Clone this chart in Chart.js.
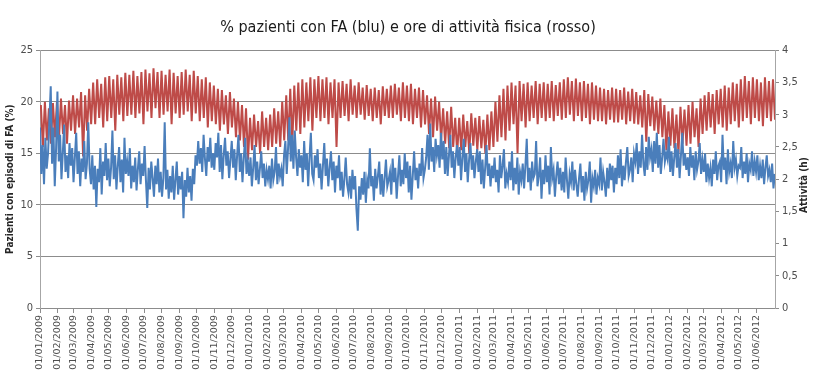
<!DOCTYPE html>
<html>
<head>
<meta charset="utf-8">
<title>FA e attività fisica</title>
<script src="https://cdn.jsdelivr.net/npm/chart.js@4.4.0/dist/chart.umd.min.js"></script>
<style>
  body { margin: 0; background: #fff; }
  .container { width: 816px; height: 386px; position: relative; }
</style>
</head>
<body>
<div class="container"><canvas id="myChart"></canvas></div>
<script>

var titolo = "% pazienti con FA (blu) e ore di attività fisica (rosso)";
var titoloSinistro = "Pazienti con episodi di FA (%)";
var titoloDestro = "Attività (h)";

var mesi = [
  "01/01/2009", "01/02/2009", "01/03/2009", "01/04/2009", "01/05/2009", "01/06/2009",
  "01/07/2009", "01/08/2009", "01/09/2009", "01/10/2009", "01/11/2009", "01/12/2009",
  "01/01/2010", "01/02/2010", "01/03/2010", "01/04/2010", "01/05/2010", "01/06/2010",
  "01/07/2010", "01/08/2010", "01/09/2010", "01/10/2010", "01/11/2010", "01/12/2010",
  "01/01/2011", "01/02/2011", "01/03/2011", "01/04/2011", "01/05/2011", "01/06/2011",
  "01/07/2011", "01/08/2011", "01/09/2011", "01/10/2011", "01/11/2011", "01/12/2011",
  "01/01/2012", "01/02/2012", "01/03/2012", "01/04/2012", "01/05/2012", "01/06/2012"
];

// % pazienti con FA, 3 letture a settimana (una riga = un mese)
var pazientiFA = [
  17.5,13.0,15.8, 12.0,16.5,13.5, 15.0,18.2,21.5, 14.0,17.5,11.8,
  15.5,21.0,14.2, 16.8,12.5,15.0, 17.8,13.2,14.8, 12.6,16.0,13.8,
  15.5,12.2,14.6, 17.0,13.0,15.2, 11.8,14.5,13.2, 16.2,12.5,14.0, 18.0,13.5,12.0,
  14.8,11.5,13.8, 9.8,13.5,12.2, 15.5,11.0,14.2, 12.8,16.0,12.4,
  14.5,11.8,13.6, 17.2,12.5,14.8, 11.5,13.8,15.6, 12.2,14.4,11.2, 16.5,13.0,14.2,
  12.8,15.5,11.6, 13.8,12.2,14.6, 11.4,13.5,15.2, 12.0,14.0,12.8,
  15.7,12.4,9.7, 13.6,11.5,14.2, 12.6,10.8,13.8, 12.0,14.5,11.2,
  13.2,10.8,12.6, 18.0,11.5,13.4, 10.6,12.8,11.2, 13.8,10.5,12.4, 14.2,11.0,12.8,
  11.5,13.2,8.7, 12.4,10.8,13.6, 11.2,12.8,10.4, 13.5,12.0,14.8,
  13.8,16.2,14.0, 15.5,13.2,16.8, 14.5,12.8,15.6, 14.2,16.5,13.6, 15.0,13.4,16.0,
  14.6,17.0,13.2, 15.8,12.5,14.8, 16.5,13.8,15.2, 12.6,14.4,16.2,
  13.6,15.4,12.4, 14.8,16.8,13.2, 15.0,12.2,14.6, 16.5,13.0,14.2,
  12.8,14.6,11.8, 13.6,15.8,12.4, 14.2,12.0,13.5, 15.2,12.6,14.0, 11.8,13.4,12.5,
  13.8,11.6,14.5, 12.4,13.2,15.6, 12.0,14.0,12.8, 13.5,11.8,14.8,
  16.2,13.0,15.5, 18.5,14.2,16.8, 13.5,17.2,14.6, 12.8,15.4,13.6,
  14.8,12.2,16.2, 13.4,15.0,11.8, 14.6,17.0,13.0, 12.4,14.8,13.6,
  15.4,12.6,14.0, 11.5,13.8,16.0, 12.8,14.5,11.8, 13.6,15.2,12.4, 14.2,11.2,13.8,
  12.6,14.8,11.4, 13.2,10.8,12.5, 14.6,12.0,11.2, 12.8,10.6,13.4,
  11.5,12.8,9.6, 7.5,11.8,10.5, 12.6,11.0,13.2, 10.2,12.4,11.6,
  15.5,11.8,12.8, 10.4,13.5,11.6, 12.8,14.2,11.0, 13.0,10.8,12.6, 14.4,11.8,12.4,
  13.2,11.0,14.5, 12.2,13.6,10.6, 12.8,14.8,11.8, 13.4,12.0,15.0,
  12.6,14.2,11.2, 13.8,10.5,12.8, 15.2,12.4,13.6, 11.6,14.0,12.8, 15.5,12.6,13.4,
  14.6,16.8,13.4, 17.9,14.2,15.6, 13.2,16.4,14.8, 15.8,13.6,17.0,
  14.4,16.2,13.0, 15.6,12.8,14.8, 16.8,13.6,15.2, 12.6,14.6,15.8,
  13.8,15.6,12.4, 14.6,16.4,13.2, 15.0,12.2,14.4, 16.0,13.4,14.8, 12.6,14.2,15.4,
  13.2,15.2,12.0, 14.4,11.6,13.6, 15.8,12.8,14.0, 11.8,13.8,12.6,
  14.6,12.2,13.4, 11.2,14.8,12.6, 13.8,15.4,11.6, 13.0,12.2,14.2,
  12.4,15.2,11.4, 13.6,12.0,14.6, 11.0,13.2,12.4, 14.0,11.6,13.8,
  16.4,12.2,13.6, 11.4,14.2,12.6, 13.0,16.2,11.8, 12.8,14.6,10.6, 13.4,12.0,14.8,
  12.2,13.8,11.0, 15.6,12.6,13.4, 10.8,12.8,14.2, 12.0,13.6,11.4,
  13.2,11.2,14.6, 12.4,10.6,13.0, 12.2,14.2,11.4, 13.4,12.0,10.8,
  12.6,14.0,11.2, 12.8,10.4,13.2, 11.6,12.4,14.2, 10.2,12.6,11.8, 13.4,11.0,12.6,
  12.0,14.6,11.4, 13.2,12.2,10.8, 13.6,11.6,14.0, 12.4,13.8,11.2,
  13.6,12.0,14.8, 12.6,15.4,11.8, 13.8,12.4,14.2, 15.6,12.8,13.4, 14.6,12.2,15.0,
  14.2,16.0,13.0, 15.2,13.6,16.8, 14.0,12.8,15.6, 13.4,16.6,14.6,
  15.4,13.2,16.2, 14.0,17.0,13.6, 15.8,13.0,14.6, 16.4,14.2,15.0,
  14.4,16.6,13.2, 15.2,12.8,14.6, 16.0,13.6,15.4, 12.6,14.8,17.0, 13.8,15.0,13.4,
  14.6,12.8,15.6, 13.6,14.8,12.4, 15.2,13.4,14.2, 16.0,13.0,14.4,
  13.2,15.0,12.2, 14.0,12.6,13.6, 11.8,14.4,13.0, 15.2,12.4,13.8,
  14.2,12.2,16.8, 13.4,14.6,12.0, 15.4,13.2,14.0, 12.6,16.2,13.6, 14.4,12.8,13.8,
  13.6,15.6,12.6, 14.2,13.0,15.0, 12.2,14.0,13.4, 15.2,12.8,14.2,
  13.2,14.8,12.4, 13.8,12.6,14.4, 12.0,13.6,14.8, 12.8,13.4,12.2, 14.0,11.6,13.0
];

// ore di attività fisica, 2 letture a settimana: feriali / fine settimana
var oreAttivita = [
  3.15,2.5, 3.2,2.6, 3.1,2.55, 3.18,2.65,
  3.2,2.62, 3.25,2.7, 3.15,2.55, 3.22,2.75,
  3.3,2.7, 3.25,2.8, 3.35,2.35, 3.3,2.75, 3.4,2.85,
  3.5,2.85, 3.55,2.95, 3.48,2.8, 3.58,2.9,
  3.6,2.95, 3.55,2.75, 3.62,3.0, 3.58,2.9, 3.65,2.98,
  3.62,3.0, 3.68,2.95, 3.6,3.02, 3.66,2.85,
  3.7,3.05, 3.64,2.95, 3.72,3.1, 3.66,2.95,
  3.68,3.0, 3.62,3.05, 3.7,2.85, 3.65,3.02, 3.6,2.95,
  3.66,3.0, 3.7,3.05, 3.62,2.9, 3.68,3.02,
  3.6,2.9, 3.55,2.95, 3.58,2.8, 3.5,2.9, 3.45,2.85,
  3.4,2.75, 3.38,2.85, 3.3,2.7, 3.35,2.8,
  3.25,2.65, 3.2,2.6, 3.15,2.5, 3.1,2.3,
  2.95,2.45, 3.0,2.5, 2.9,2.4, 3.05,2.5, 2.95,2.45,
  3.0,2.5, 3.1,2.55, 3.05,2.5, 3.2,2.6,
  3.3,2.6, 3.4,2.55, 3.45,2.75, 3.5,2.7,
  3.55,2.8, 3.5,2.9, 3.58,2.75, 3.55,2.95,
  3.6,2.9, 3.55,2.95, 3.58,2.85, 3.5,2.95, 3.55,2.5,
  3.5,2.95, 3.52,2.98, 3.48,2.9, 3.55,3.0,
  3.45,2.95, 3.5,3.0, 3.42,2.92, 3.46,2.98,
  3.4,2.9, 3.42,2.95, 3.38,2.85, 3.44,2.98, 3.4,2.95,
  3.45,2.95, 3.48,3.0, 3.42,2.9, 3.5,2.95,
  3.45,2.9, 3.48,2.85, 3.4,2.95, 3.42,2.8, 3.38,2.85,
  3.3,2.7, 3.25,2.65, 3.28,2.75, 3.2,2.6,
  3.1,2.55, 3.05,2.48, 3.12,2.5, 2.95,2.4,
  2.95,2.45, 3.0,2.5, 2.9,2.4, 3.02,2.52, 2.95,2.45,
  2.98,2.48, 2.92,2.4, 3.0,2.45, 3.05,2.5,
  3.2,2.58, 3.3,2.65, 3.4,2.6, 3.45,2.75,
  3.5,2.85, 3.45,2.4, 3.52,2.9, 3.48,2.8,
  3.5,2.9, 3.45,2.95, 3.52,2.85, 3.48,2.95, 3.5,2.9,
  3.48,2.95, 3.52,2.9, 3.46,2.98, 3.5,2.92,
  3.55,2.95, 3.58,3.0, 3.52,2.9, 3.56,2.98,
  3.5,2.9, 3.52,2.95, 3.48,2.85, 3.5,2.92, 3.45,2.9,
  3.42,2.9, 3.4,2.85, 3.38,2.92, 3.42,2.88,
  3.4,2.88, 3.38,2.92, 3.42,2.85, 3.36,2.9, 3.4,2.86,
  3.35,2.85, 3.3,2.8, 3.38,2.58, 3.32,2.82,
  3.28,2.75, 3.22,2.7, 3.25,2.65, 3.15,2.45,
  3.05,2.52, 3.1,2.48, 3.0,2.4, 3.12,2.55, 3.08,2.52,
  3.15,2.55, 3.2,2.65, 3.1,2.5, 3.25,2.7,
  3.3,2.75, 3.35,2.8, 3.32,2.7, 3.38,2.85,
  3.4,2.8, 3.45,2.75, 3.42,2.85, 3.5,2.9, 3.48,2.8,
  3.55,2.9, 3.6,2.95, 3.52,2.85, 3.58,2.95,
  3.55,2.9, 3.5,2.82, 3.58,2.95, 3.52,2.9, 3.55,2.92
];

var GIORNO = 86400000;
var inizio = Date.UTC(2009, 0, 1);
var fontStretto = "'Liberation Sans Narrow', 'DejaVu Sans Condensed', Roboto, sans-serif";

function giornoDa(etichetta) { // "gg/mm/aaaa" -> giorni dal 01/01/2009
  var p = etichetta.split("/");
  return (Date.UTC(+p[2], +p[1] - 1, +p[0]) - inizio) / GIORNO;
}

function punti(valori, passo, scarto) {
  var out = [];
  for (var i = 0; i < valori.length; i++) {
    out.push({ x: scarto + i * passo, y: valori[i] });
  }
  return out;
}

var scrittaDestra = {
  id: "scrittaDestra",
  afterDraw: function(chart) {
    var ctx = chart.ctx;
    var area = chart.chartArea;
    ctx.save();
    ctx.translate(chart.scales.y1.right - 12, (area.top + area.bottom) / 2 + 6);
    ctx.rotate(-Math.PI / 2);
    ctx.font = "bold 10px " + fontStretto;
    ctx.fillStyle = "#262626";
    ctx.textAlign = "center";
    ctx.textBaseline = "middle";
    ctx.fillText(titoloDestro, 0, 0);
    ctx.restore();
  }
};

function init() {

  var tickMesi = mesi.map(giornoDa);

  var ctx = document.getElementById("myChart").getContext("2d");
  var chart = new Chart(ctx, {
    type: "line",
    data: {
      datasets: [{
        label: "Pazienti con FA",
        data: punti(pazientiFA, 7 / 3, 0),
        yAxisID: "y",
        borderColor: "#4a7ebb",
        borderWidth: 2,
        pointRadius: 0,
        order: 0
      }, {
        label: "Attività",
        data: punti(oreAttivita, 3.5, 1.5),
        yAxisID: "y1",
        borderColor: "#be4b48",
        borderWidth: 2,
        pointRadius: 0,
        order: 1
      }]
    },
    options: {
      responsive: true,
      maintainAspectRatio: false,
      animation: false,
      layout: { padding: 0 },
      plugins: {
        legend: { display: false },
        tooltip: { enabled: false },
        title: {
          display: true,
          text: titolo,
          color: "#1a1a1a",
          font: { family: fontStretto, size: 16, weight: "normal" },
          padding: { top: 18, bottom: 13 }
        }
      },
      scales: {
        x: {
          type: "linear",
          min: 0,
          max: 1279,
          afterBuildTicks: function(scale) {
            scale.ticks = tickMesi.map(function(v) { return { value: v }; });
          },
          afterFit: function(scale) { scale.height = 78; },
          grid: { drawOnChartArea: false, tickLength: 5, color: "#8c8c8c" },
          border: { display: true, color: "#8c8c8c" },
          ticks: {
            autoSkip: false,
            minRotation: 90,
            maxRotation: 90,
            padding: 2,
            color: "#4d4d4d",
            font: { family: "'DejaVu Sans', sans-serif", size: 9.5 },
            callback: function(value, index) { return mesi[index]; }
          }
        },
        y: {
          position: "left",
          min: 0,
          max: 25,
          afterFit: function(scale) { scale.width = 40; },
          grid: { color: "#8c8c8c", tickLength: 4 },
          border: { display: true, color: "#a6a6a6" },
          ticks: {
            stepSize: 5,
            padding: 3,
            color: "#4d4d4d",
            font: { family: fontStretto, size: 11 }
          },
          title: {
            display: true,
            text: titoloSinistro,
            color: "#262626",
            padding: { top: 4, bottom: 0 },
            font: { family: fontStretto, size: 10, weight: "bold" }
          }
        },
        y1: {
          position: "right",
          min: 0,
          max: 4,
          afterFit: function(scale) { scale.width = 41; },
          grid: { drawOnChartArea: false, tickLength: 4, color: "#8c8c8c" },
          border: { display: true, color: "#a6a6a6" },
          ticks: {
            stepSize: 0.5,
            padding: 3,
            color: "#4d4d4d",
            font: { family: fontStretto, size: 11 },
            callback: function(value) { return String(value).replace(".", ","); }
          }
        }
      }
    },
    plugins: [scrittaDestra]
  });
}

document.addEventListener("DOMContentLoaded", init);
</script>
</body>
</html>
